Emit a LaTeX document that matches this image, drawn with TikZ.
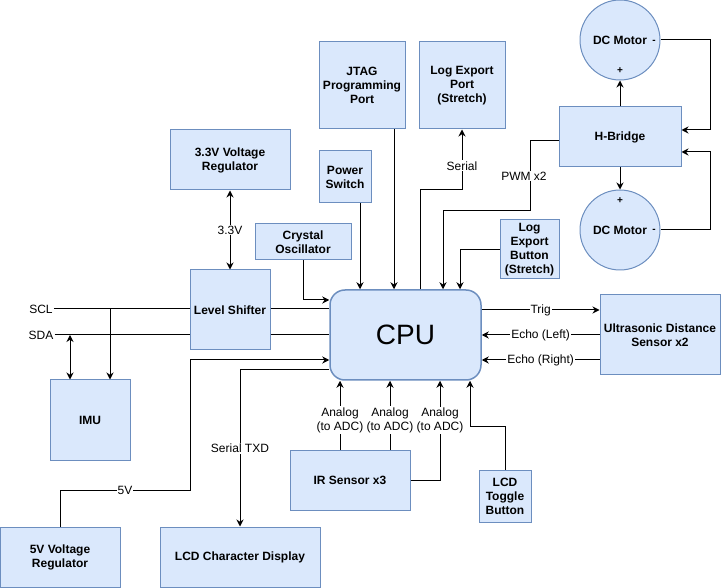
\documentclass[tikz,border=0pt]{standalone}
\usepackage{fontspec}
\setmainfont{Liberation Sans}
\usepackage{xcolor}
\definecolor{blkfill}{HTML}{DAE8FC}
\definecolor{blkedge}{HTML}{6C8EBF}
\usetikzlibrary{arrows.meta, positioning, calc}

\begin{document}
\begin{tikzpicture}[
    x=1pt, y=-1pt,
    blk/.style={draw=blkedge, fill=blkfill, line width=1pt, align=center, inner sep=2pt, font=\fontsize{12}{14}\selectfont\bfseries},
    motor/.style={blk, circle, minimum size=80pt},
    wire/.style={line width=1pt},
    conn/.style={wire, -{Stealth[length=7pt, width=7pt]}},
    biconn/.style={wire, {Stealth[length=7pt, width=7pt]}-{Stealth[length=7pt, width=7pt]}},
    lbl/.style={fill=white, inner sep=1pt, align=center, font=\fontsize{12}{14}\selectfont},
    pole/.style={font=\fontsize{10}{12}\selectfont\bfseries, inner sep=0pt},
]
\useasboundingbox (0,0) rectangle (721,588);

% CPU
\node[blk, rounded corners=15pt, minimum width=151pt, minimum height=90pt, line width=1.5pt, font=\fontsize{28}{32}\selectfont] (cpu) at (405.5,335) {CPU};

% Power and clock
\node[blk, minimum width=120pt, minimum height=60pt] (reg33) at (230,160) {3.3V Voltage\\Regulator};
\node[blk, minimum width=52pt, minimum height=52pt] (pwr) at (345,177) {Power\\Switch};
\node[blk, minimum width=96pt, minimum height=36pt] (xtal) at (303,242) {Crystal\\Oscillator};
\node[blk, minimum width=80pt, minimum height=80pt] (shifter) at (230,310) {Level Shifter};
\node[blk, minimum width=120pt, minimum height=60pt] (reg5) at (60,557) {5V Voltage\\Regulator};

% Ports and buttons
\node[blk, minimum width=86pt, minimum height=87pt] (jtag) at (362,85.5) {JTAG\\Programming\\Port};
\node[blk, minimum width=86pt, minimum height=87pt] (logport) at (462,85.5) {Log Export\\Port\\(Stretch)};
\node[blk, minimum width=59pt, minimum height=59pt] (logbtn) at (529.5,249.5) {Log\\Export\\Button\\(Stretch)};
\node[blk, minimum width=52pt, minimum height=52pt] (lcdbtn) at (505,496) {LCD\\Toggle\\Button};

% Motors
\node[blk, minimum width=122pt, minimum height=60pt] (hbridge) at (620,137) {H-Bridge};
\node[motor] (motA) at (620,40) {DC Motor};
\node[motor] (motB) at (620,230) {DC Motor};
\node[pole] (motAp) at (620,71) {+};
\node[pole] (motAm) at (654,42) {-};
\node[pole] (motBp) at (620,201) {+};
\node[pole] (motBm) at (654,231) {-};

% Sensors and display
\node[blk, minimum width=120pt, minimum height=80pt] (sonar) at (660,335) {Ultrasonic Distance\\Sensor x2};
\node[blk, minimum width=80pt, minimum height=80pt] (imu) at (90,420) {IMU};
\node[blk, minimum width=120pt, minimum height=60pt] (ir) at (350,480) {IR Sensor x3};
\node[blk, minimum width=160pt, minimum height=60pt] (lcd) at (240,557) {LCD Character Display};

% I2C bus
\node[lbl, fill=none] (scl) at (41,309) {SCL};
\node[lbl, fill=none] (sda) at (41,335) {SDA};
\coordinate (sclTap) at (110,309);
\coordinate (sdaTap) at (70,335);

% Power rails
\draw[biconn] (reg33) -- node[lbl]{3.3V} (shifter);
\coordinate (railBend) at (190,490);
\draw[conn] (reg5.north) |- node[lbl, pos=0.75]{5V} (railBend) |- (cpu.west |- 0,360);
\draw[conn] (xtal.south) |- (cpu.west |- 0,300);

% I2C wiring
\draw[wire] (scl) -- (scl -| shifter.west);
\draw[wire] (sda) -- (sda -| shifter.west);
\draw[wire] (shifter.east |- scl) -- (cpu.west |- scl);
\draw[wire] (shifter.east |- sda) -- (cpu.west |- sda);
\draw[conn] (sclTap) -- (sclTap |- imu.north);
\draw[biconn] (sdaTap) -- (sdaTap |- imu.north);

% Display
\draw[conn] (cpu.west |- 0,370) -| node[lbl, pos=0.75]{Serial TXD} (lcd.north);

% Top inputs
\draw[conn] (pwr.south -| 360,0) -- (cpu.north -| 360,0);
\draw[conn] (jtag.south -| 394,0) -- (cpu.north -| 394,0);
\coordinate (serialBend) at (462,190);
\draw[conn] (cpu.north -| 420,0) |- (serialBend) -- node[lbl, pos=0.4]{Serial} (logport.south);
\coordinate (pwmBend) at (530,211);
\draw[conn] (hbridge.west |- 0,141) -| node[lbl, pos=0.75, xshift=-6pt]{PWM x2} (pwmBend) -| (cpu.north -| 443,0);
\draw[conn] (logbtn.west) -| (cpu.north -| 460,0);

% Motor wiring
\draw[conn] (hbridge.north) -- (motA.south);
\draw[conn] (hbridge.south) -- (motB.north);
\coordinate (retA) at (710,130);
\coordinate (retB) at (710,152);
\draw[conn] (motA.east) -| (retA) -- (hbridge.east |- retA);
\draw[conn] (motB.east) -| (retB) -- (hbridge.east |- retB);

% Ultrasonic
\draw[conn] (cpu.east |- 0,310) -- node[lbl]{Trig} (sonar.west |- 0,310);
\draw[conn] (sonar.west |- 0,335) -- node[lbl]{Echo (Left)} (cpu.east |- 0,335);
\draw[conn] (sonar.west |- 0,360) -- node[lbl]{Echo (Right)} (cpu.east |- 0,360);

% IR sensors
\draw[conn] (ir.north -| 340,0) -- node[lbl, pos=0.43]{Analog\\(to ADC)} (cpu.south -| 340,0);
\draw[conn] (ir.north -| 390,0) -- node[lbl, pos=0.43]{Analog\\(to ADC)} (cpu.south -| 390,0);
\draw[conn] (ir.east) -| node[lbl, pos=0.8]{Analog\\(to ADC)} (cpu.south -| 440,0);

% LCD toggle
\coordinate (toggleBend) at (470,426);
\draw[conn] (lcdbtn.north) |- (toggleBend) -- (cpu.south -| toggleBend);

\end{tikzpicture}
\end{document}
